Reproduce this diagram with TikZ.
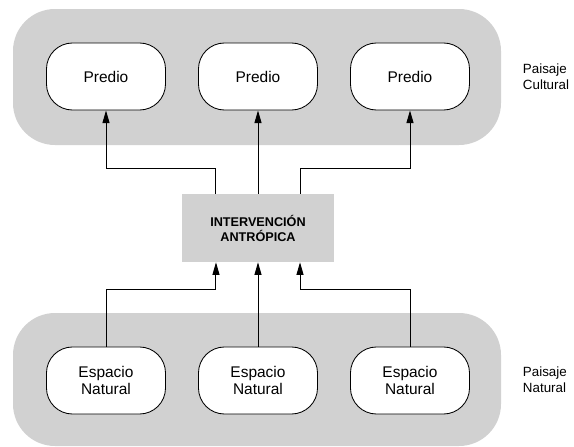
\documentclass[tikz,border=0pt]{standalone}
\usepackage{fontspec}
\setmainfont{Liberation Sans}
\usetikzlibrary
  {
    arrows.meta,              % arrow heads
    positioning,              % place nodes relative to other nodes
    calc,
  }

\definecolor{fondo}{RGB}{209,209,209}

\tikzset{
  unidad/.style={draw, fill=white, line width=0.6pt, rounded corners=0.65cm,
    minimum width=2.975cm, minimum height=1.675cm, align=center,
    font=\fontsize{11}{12.5}\selectfont},
  intervencion/.style={fill=fondo, minimum width=3.8cm, minimum height=1.7cm,
    align=center, font=\fontsize{9}{10.6}\selectfont\bfseries},
  paisaje/.style={anchor=west, align=left, font=\fontsize{9.5}{11.2}\selectfont},
  flecha/.style={line width=0.7pt, -{Triangle[length=9pt,width=5pt]}},
}

\begin{document}
\begin{tikzpicture}[x=0.025cm, y=-0.025cm]
    \useasboundingbox (0,0) rectangle (574,447);

    % gray areas
    \fill [fondo, rounded corners=1.05cm] (13,9) rectangle (501,145);
    \fill [fondo, rounded corners=1.05cm] (13,313) rectangle (501,446);

    \node [unidad] (p1) at (106,76.5) {Predio};
    \node [unidad] (p2) at (258,76.5) {Predio};
    \node [unidad] (p3) at (410,76.5) {Predio};

    \node [intervencion] (ia) at (258,228) {INTERVENCIÓN\\ANTRÓPICA};

    \node [unidad] (e1) at (106,380.5) {Espacio\\Natural};
    \node [unidad] (e2) at (258,380.5) {Espacio\\Natural};
    \node [unidad] (e3) at (410,380.5) {Espacio\\Natural};

    \node [paisaje] (pc) at (518,77) {Paisaje\\Cultural};
    \node [paisaje] (pn) at (518,380) {Paisaje\\Natural};

    % up to the predios
    \draw [flecha] ([xshift=-1.05cm]ia.north) -- ++(0,-25) -| (p1.south);
    \draw [flecha] (ia.north) -- (p2.south);
    \draw [flecha] ([xshift=1.05cm]ia.north) -- ++(0,-25) -| (p3.south);

    % from the natural spaces
    \draw [flecha] (e1.north) -- ++(0,-57) -| ([xshift=-1.05cm]ia.south);
    \draw [flecha] (e2.north) -- (ia.south);
    \draw [flecha] (e3.north) -- ++(0,-57) -| ([xshift=1.05cm]ia.south);

  \end{tikzpicture}
\end{document}
